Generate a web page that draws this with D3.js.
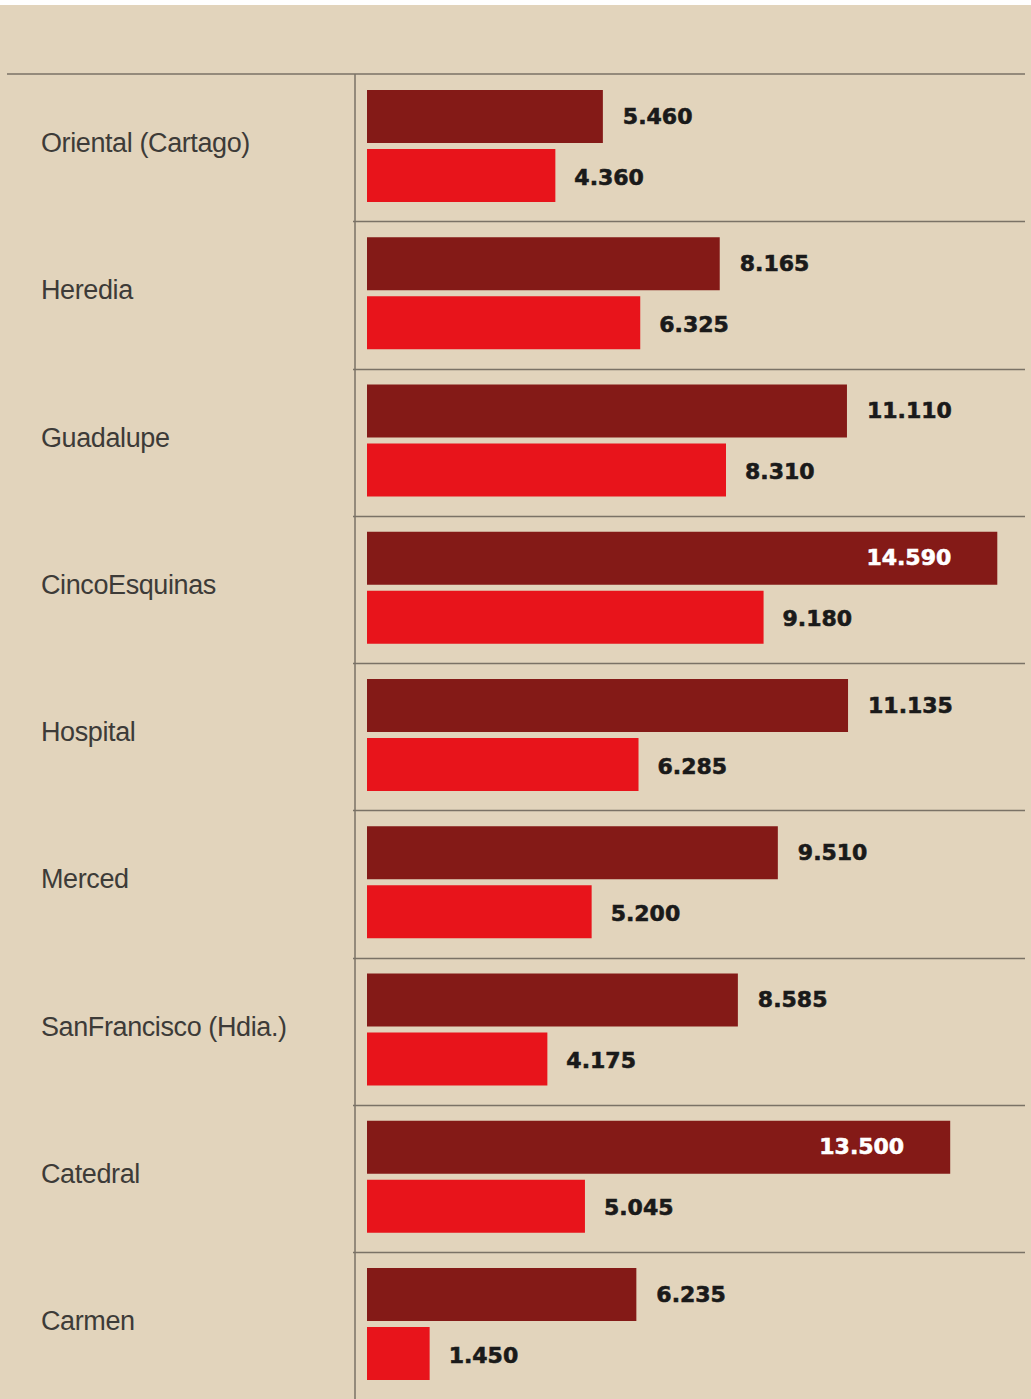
<!DOCTYPE html>
<html>
<head>
<meta charset="utf-8">
<script src="https://cdn.jsdelivr.net/npm/d3@7"></script>
<style>
  html, body { margin: 0; padding: 0; background: #ffffff; }
  svg { display: block; }
</style>
</head>
<body>
<svg id="chart" width="1031" height="1399"></svg>
<script>
// data
const places = ["Oriental (Cartago)", "Heredia", "Guadalupe", "CincoEsquinas", "Hospital",
                "Merced", "SanFrancisco (Hdia.)", "Catedral", "Carmen"]
const darkValues = [5460, 8165, 11110, 14590, 11135, 9510, 8585, 13500, 6235]
const redValues  = [4360, 6325, 8310, 9180, 6285, 5200, 4175, 5045, 1450]

const W = 1031, H = 1399
const topY = 74, step = 147.25
const barH = 53, barGap = 6, barOff = 16
const fmt = d => d3.format(",")(d).replace(/,/g, ".")

const svg = d3.select("#chart")

// background
svg.append("rect").attr("x", 0).attr("y", 5).attr("width", W).attr("height", H - 5)
   .attr("fill", "#e2d4bc")

const y = d3.scaleBand().domain(places).range([topY, topY + step * places.length]).padding(0)
const x = d3.scaleLinear().domain([0, 15000]).range([367, 1015])

const rows = places.map((p, i) => ({name: p, dark: darkValues[i], red: redValues[i]}))

// grid lines
svg.append("line").attr("x1", 7).attr("x2", 1025).attr("y1", topY).attr("y2", topY)
   .attr("stroke", "#7a7266").attr("stroke-width", 1.5)
svg.selectAll(".sep").data(places.slice(1)).enter().append("line")
   .attr("class", "sep")
   .attr("x1", 353).attr("x2", 1025)
   .attr("y1", d => Math.round(y(d)) + 0.5).attr("y2", d => Math.round(y(d)) + 0.5)
   .attr("stroke", "#7a7266").attr("stroke-width", 1.5)
svg.append("line").attr("x1", 355).attr("x2", 355).attr("y1", topY).attr("y2", H)
   .attr("stroke", "#7a7266").attr("stroke-width", 1.5)

const g = svg.selectAll(".row").data(rows).enter().append("g")
   .attr("class", "row")
   .attr("transform", d => `translate(0,${y(d.name)})`)

// category labels
g.append("text")
   .attr("x", 41).attr("y", barOff + barH + barGap / 2 + 6)
   .attr("font-family", "'Liberation Sans', Arial, sans-serif")
   .attr("font-size", 27).attr("letter-spacing", -0.4)
   .attr("fill", "#3d3b38")
   .text(d => d.name)

// bars
g.append("rect").attr("x", x(0)).attr("y", barOff)
   .attr("width", d => x(d.dark) - x(0)).attr("height", barH)
   .attr("fill", "#841a17")
g.append("rect").attr("x", x(0)).attr("y", barOff + barH + barGap)
   .attr("width", d => x(d.red) - x(0)).attr("height", barH)
   .attr("fill", "#e8141b")

// value labels
const inside = v => v > 12000
g.append("text")
   .attr("x", d => inside(d.dark) ? x(d.dark) - 46 : x(d.dark) + 20)
   .attr("y", barOff + barH / 2 + 7)
   .attr("text-anchor", d => inside(d.dark) ? "end" : "start")
   .attr("font-family", "'DejaVu Sans', sans-serif").attr("font-weight", "bold")
   .attr("font-size", 22)
   .attr("fill", d => inside(d.dark) ? "#ffffff" : "#1a1a1a")
   .attr("stroke", d => inside(d.dark) ? "#ffffff" : "#1a1a1a").attr("stroke-width", 0.6)
   .text(d => fmt(d.dark))
g.append("text")
   .attr("x", d => x(d.red) + 19)
   .attr("y", barOff + barH + barGap + barH / 2 + 9)
   .attr("font-family", "'DejaVu Sans', sans-serif").attr("font-weight", "bold")
   .attr("font-size", 22)
   .attr("fill", "#1a1a1a")
   .attr("stroke", "#1a1a1a").attr("stroke-width", 0.6)
   .text(d => fmt(d.red))
</script>
</body>
</html>
